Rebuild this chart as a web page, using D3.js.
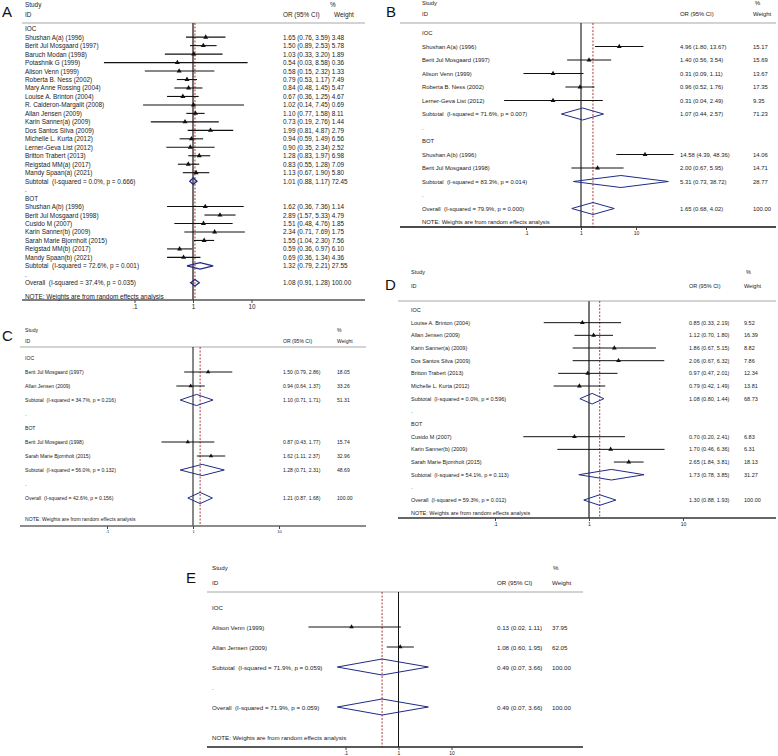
<!DOCTYPE html>
<html><head><meta charset="utf-8">
<script src="https://cdn.jsdelivr.net/npm/d3@7"></script>
<style>
body{margin:0;background:#fff}
svg text{font-family:"Liberation Sans",Arial,Helvetica,sans-serif;white-space:pre;fill:#222}
</style>
</head><body>
<svg id="chart" width="778" height="756"></svg>
<script>
// ---------------- DATA ----------------
const tickValues = [0.1, 1, 10];
const tickLabels = [".1", "1", "10"];
const headerLabels = ["Study", "ID", "OR (95% CI)", "%", "Weight"];
const noteText = "NOTE: Weights are from random effects analysis";

// Panel A
const aIOC = [
  ["Shushan A(a) (1996)", 1.65, 0.76, 3.59, 3.48],
  ["Berit Jul Mosgaard (1997)", 1.50, 0.89, 2.53, 5.78],
  ["Baruch Modan (1998)", 1.03, 0.33, 3.20, 1.89],
  ["Potashnik G (1999)", 0.54, 0.03, 8.58, 0.36],
  ["Alison Venn (1999)", 0.58, 0.15, 2.32, 1.33],
  ["Roberta B. Ness (2002)", 0.79, 0.53, 1.17, 7.49],
  ["Mary Anne Rossing (2004)", 0.84, 0.48, 1.45, 5.47],
  ["Louise A. Brinton (2004)", 0.67, 0.36, 1.25, 4.67],
  ["R. Calderon-Margalit (2008)", 1.02, 0.14, 7.45, 0.69],
  ["Allan Jensen (2009)", 1.10, 0.77, 1.58, 8.11],
  ["Karin Sanner(a) (2009)", 0.73, 0.19, 2.76, 1.44],
  ["Dos Santos Silva (2009)", 1.99, 0.81, 4.87, 2.79],
  ["Michelle L. Kurta (2012)", 0.94, 0.59, 1.49, 6.56],
  ["Lerner-Geva List (2012)", 0.90, 0.35, 2.34, 2.52],
  ["Britton Trabert (2013)", 1.28, 0.83, 1.97, 6.98],
  ["Reigstad MM(a) (2017)", 0.83, 0.55, 1.28, 7.09],
  ["Mandy Spaan(a) (2021)", 1.13, 0.67, 1.90, 5.80]
];
const aIOCsub = ["Subtotal  (I-squared = 0.0%, p = 0.666)", 1.01, 0.88, 1.17, 72.45];
const aBOT = [
  ["Shushan A(b) (1996)", 1.62, 0.36, 7.36, 1.14],
  ["Berit Jul Mosgaard (1998)", 2.89, 1.57, 5.33, 4.79],
  ["Cusido M (2007)", 1.51, 0.48, 4.76, 1.85],
  ["Karin Sanner(b) (2009)", 2.34, 0.71, 7.69, 1.75],
  ["Sarah Marie Bjornholt (2015)", 1.55, 1.04, 2.30, 7.56],
  ["Reigstad MM(b) (2017)", 0.59, 0.36, 0.97, 6.10],
  ["Mandy Spaan(b) (2021)", 0.69, 0.36, 1.34, 4.36]
];
const aBOTsub = ["Subtotal  (I-squared = 72.6%, p = 0.001)", 1.32, 0.79, 2.21, 27.55];
const aOverall = ["Overall  (I-squared = 37.4%, p = 0.035)", 1.08, 0.91, 1.28, 100.00];

// Panel B
const bIOC = [
  ["Shushan A(a) (1996)", 4.96, 1.80, 13.67, 15.17],
  ["Berit Jul Mosgaard (1997)", 1.40, 0.56, 3.54, 15.69],
  ["Alison Venn (1999)", 0.31, 0.09, 1.11, 13.67],
  ["Roberta B. Ness (2002)", 0.96, 0.52, 1.76, 17.35],
  ["Lerner-Geva List (2012)", 0.31, 0.04, 2.49, 9.35]
];
const bIOCsub = ["Subtotal  (I-squared = 71.6%, p = 0.007)", 1.07, 0.44, 2.57, 71.23];
const bBOT = [
  ["Shushan A(b) (1996)", 14.58, 4.39, 48.36, 14.06],
  ["Berit Jul Mosgaard (1998)", 2.00, 0.67, 5.95, 14.71]
];
const bBOTsub = ["Subtotal  (I-squared = 83.3%, p = 0.014)", 5.31, 0.73, 38.72, 28.77];
const bOverall = ["Overall  (I-squared = 79.9%, p = 0.000)", 1.65, 0.68, 4.02, 100.00];

// Panel C
const cIOC = [
  ["Berit Jul Mosgaard (1997)", 1.50, 0.79, 2.86, 18.05],
  ["Allan Jensen (2009)", 0.94, 0.64, 1.37, 33.26]
];
const cIOCsub = ["Subtotal  (I-squared = 34.7%, p = 0.216)", 1.10, 0.71, 1.71, 51.31];
const cBOT = [
  ["Berit Jul Mosgaard (1998)", 0.87, 0.43, 1.77, 15.74],
  ["Sarah Marie Bjornholt (2015)", 1.62, 1.11, 2.37, 32.96]
];
const cBOTsub = ["Subtotal  (I-squared = 56.0%, p = 0.132)", 1.28, 0.71, 2.31, 48.69];
const cOverall = ["Overall  (I-squared = 42.6%, p = 0.156)", 1.21, 0.87, 1.68, 100.00];

// Panel D
const dIOC = [
  ["Louise A. Brinton (2004)", 0.85, 0.33, 2.19, 9.52],
  ["Allan Jensen (2009)", 1.12, 0.70, 1.80, 16.39],
  ["Karin Sanner(a) (2009)", 1.86, 0.67, 5.15, 8.82],
  ["Dos Santos Silva (2009)", 2.06, 0.67, 6.32, 7.86],
  ["Britton Trabert (2013)", 0.97, 0.47, 2.01, 12.34],
  ["Michelle L. Kurta (2012)", 0.79, 0.42, 1.49, 13.81]
];
const dIOCsub = ["Subtotal  (I-squared = 0.0%, p = 0.596)", 1.08, 0.80, 1.44, 68.73];
const dBOT = [
  ["Cusido M (2007)", 0.70, 0.20, 2.41, 6.83],
  ["Karin Sanner(b) (2009)", 1.70, 0.46, 6.36, 6.31],
  ["Sarah Marie Bjornholt (2015)", 2.65, 1.84, 3.81, 18.13]
];
const dBOTsub = ["Subtotal  (I-squared = 54.1%, p = 0.113)", 1.73, 0.78, 3.85, 31.27];
const dOverall = ["Overall  (I-squared = 59.3%, p = 0.012)", 1.30, 0.88, 1.93, 100.00];

// Panel E
const eIOC = [
  ["Alison Venn (1999)", 0.13, 0.02, 1.11, 37.95],
  ["Allan Jensen (2009)", 1.08, 0.60, 1.95, 62.05]
];
const eIOCsub = ["Subtotal  (I-squared = 71.9%, p = 0.059)", 0.49, 0.07, 3.66, 100.00];
const eOverall = ["Overall  (I-squared = 71.9%, p = 0.059)", 0.49, 0.07, 3.66, 100.00];

// ---------------- DRAWING ----------------
const svg = d3.select("#chart");
const fmt = d3.format(".2f");
const navy = "#1f2b86";
const red = "#a3262b";

function drawPanel(cfg, groups, overall) {
  const g = svg.append("g");
  const x = d3.scaleLog().domain([0.1, 10]).range([cfg.x1 - cfg.dec, cfg.x1 + cfg.dec]);
  const rows = [];
  groups.forEach(grp => {
    rows.push({type: "group", label: grp.name});
    grp.studies.forEach(s => rows.push({type: "study", label: s[0], est: s[1], lo: s[2], hi: s[3], w: s[4]}));
    rows.push({type: "sub", label: grp.sub[0], est: grp.sub[1], lo: grp.sub[2], hi: grp.sub[3], w: grp.sub[4]});
    rows.push({type: "dot", label: "."});
  });
  rows.push({type: "sub", label: overall[0], est: overall[1], lo: overall[2], hi: overall[3], w: overall[4]});
  rows.forEach((r, i) => r.y = cfg.y0 + i * cfg.dy);

  const fs = cfg.fs;
  // panel letter
  g.append("text").attr("x", cfg.letterX).attr("y", cfg.letterY)
    .attr("font-size", 15).style("fill", "#111").text(cfg.letter);
  // header
  g.append("text").attr("x", cfg.labelX).attr("y", cfg.studyY).attr("dominant-baseline", "central")
    .attr("font-size", fs).text(headerLabels[0]);
  g.append("text").attr("x", cfg.labelX).attr("y", cfg.idY).attr("dominant-baseline", "central")
    .attr("font-size", fs).text(headerLabels[1]);
  g.append("text").attr("x", cfg.orX).attr("y", cfg.idY).attr("dominant-baseline", "central")
    .attr("font-size", fs).text(headerLabels[2]);
  g.append("text").attr("x", cfg.pctX).attr("y", cfg.studyY).attr("dominant-baseline", "central")
    .attr("font-size", fs).text(headerLabels[3]);
  g.append("text").attr("x", cfg.wX).attr("y", cfg.idY).attr("dominant-baseline", "central")
    .attr("font-size", fs).text(headerLabels[4]);
  g.append("line").attr("x1", cfg.left).attr("x2", cfg.right)
    .attr("y1", cfg.headY).attr("y2", cfg.headY)
    .attr("stroke", "#c4c4c4").attr("stroke-width", 1.5);

  // null line and overall line
  g.append("line").attr("x1", x(1)).attr("x2", x(1))
    .attr("y1", cfg.headY).attr("y2", cfg.axisY)
    .attr("stroke", cfg.nullColor).attr("stroke-width", cfg.nullW);
  g.append("line").attr("x1", x(overall[1])).attr("x2", x(overall[1]))
    .attr("y1", cfg.headY).attr("y2", cfg.axisY)
    .attr("stroke", red).attr("stroke-width", 0.9).attr("stroke-dasharray", "2,1.5");

  // row labels
  g.selectAll("text.lab").data(rows).join("text").attr("class", "lab")
    .attr("x", cfg.labelX).attr("y", d => d.y).attr("dominant-baseline", "central")
    .attr("font-size", fs).text(d => d.label);

  const est = rows.filter(r => r.type === "study" || r.type === "sub");
  if (cfg.joined) {
    g.selectAll("text.or").data(est).join("text").attr("class", "or")
      .attr("x", cfg.orX).attr("y", d => d.y).attr("dominant-baseline", "central")
      .attr("font-size", fs)
      .text(d => `${fmt(d.est)} (${fmt(d.lo)}, ${fmt(d.hi)}) ${fmt(d.w)}`);
  } else {
    g.selectAll("text.or").data(est).join("text").attr("class", "or")
      .attr("x", cfg.orX).attr("y", d => d.y).attr("dominant-baseline", "central")
      .attr("font-size", fs)
      .text(d => `${fmt(d.est)} (${fmt(d.lo)}, ${fmt(d.hi)})`);
    g.selectAll("text.w").data(est).join("text").attr("class", "w")
      .attr("x", cfg.wX).attr("y", d => d.y).attr("dominant-baseline", "central")
      .attr("font-size", fs).text(d => fmt(d.w));
  }

  // CIs
  const studies = rows.filter(r => r.type === "study");
  g.selectAll("line.ci").data(studies).join("line").attr("class", "ci")
    .attr("x1", d => x(d.lo)).attr("x2", d => x(d.hi))
    .attr("y1", d => d.y).attr("y2", d => d.y)
    .attr("stroke", "#111").attr("stroke-width", cfg.ciW);
  const tri = d3.symbol(d3.symbolTriangle, cfg.triArea);
  g.selectAll("path.pt").data(studies).join("path").attr("class", "pt")
    .attr("transform", d => `translate(${x(d.est)},${d.y})`)
    .attr("d", tri).attr("fill", "#111");

  // diamonds
  const subs = rows.filter(r => r.type === "sub");
  g.selectAll("path.dia").data(subs).join("path").attr("class", "dia")
    .attr("d", d => `M${x(d.lo)},${d.y}L${x(d.est)},${d.y - cfg.dh}L${x(d.hi)},${d.y}L${x(d.est)},${d.y + cfg.dh}Z`)
    .attr("fill", "none").attr("stroke", navy).attr("stroke-width", cfg.diaW);

  // note
  g.append("text").attr("x", cfg.labelX).attr("y", cfg.noteY).attr("dominant-baseline", "central")
    .attr("font-size", fs).text(noteText);

  // axis line
  g.append("line").attr("x1", cfg.left).attr("x2", cfg.right)
    .attr("y1", cfg.axisY).attr("y2", cfg.axisY)
    .attr("stroke", cfg.axisColor).attr("stroke-width", 1.3);
  const axis = d3.axisBottom(x).tickValues(tickValues)
    .tickFormat((d, i) => tickLabels[i]).tickSize(3).tickPadding(1.5);
  const ag = g.append("g").attr("transform", `translate(0,${cfg.axisY})`).call(axis);
  ag.select(".domain").remove();
  ag.selectAll("text").attr("font-size", cfg.tickFs).style("fill", "#222")
    .style("font-family", '"Liberation Sans",Arial,sans-serif');
  ag.selectAll("line").attr("stroke", "#444");
}

drawPanel({letter: "A", letterX: 2, letterY: 17, left: 22, right: 365,
  labelX: 25, orX: 283, pctX: 330, wX: 334, studyY: 4, idY: 14, headY: 23,
  y0: 28.7, dy: 8.47, noteY: 296.5, axisY: 300, x1: 193, dec: 58.5,
  fs: 6.4, tickFs: 6.4, joined: true, nullColor: "#111", nullW: 1.2,
  axisColor: "#555", ciW: 1.1, triArea: 11, dh: 3.2, diaW: 1.3},
  [{name: "IOC", studies: aIOC, sub: aIOCsub}, {name: "BOT", studies: aBOT, sub: aBOTsub}], aOverall);

drawPanel({letter: "B", letterX: 386, letterY: 17, left: 400, right: 776,
  labelX: 422, orX: 680, pctX: 755, wX: 753, studyY: 3, idY: 14, headY: 23,
  y0: 33, dy: 13.5, noteY: 222, axisY: 227, x1: 581, dec: 55,
  fs: 5.9, tickFs: 5, joined: false, nullColor: "#111", nullW: 1.1,
  axisColor: "#111", ciW: 1, triArea: 10, dh: 6, diaW: 1},
  [{name: "IOC", studies: bIOC, sub: bIOCsub}, {name: "BOT", studies: bBOT, sub: bBOTsub}], bOverall);

drawPanel({letter: "C", letterX: 2, letterY: 341, left: 20, right: 366,
  labelX: 25, orX: 283, pctX: 337, wX: 337, studyY: 330, idY: 341, headY: 347,
  y0: 358, dy: 14, noteY: 519, axisY: 526, x1: 193, dec: 86,
  fs: 5.1, tickFs: 4, joined: false, nullColor: "#111", nullW: 1,
  axisColor: "#666", ciW: 1, triArea: 8, dh: 5.6, diaW: 1},
  [{name: "IOC", studies: cIOC, sub: cIOCsub}, {name: "BOT", studies: cBOT, sub: cBOTsub}], cOverall);

drawPanel({letter: "D", letterX: 385, letterY: 290, left: 398, right: 776,
  labelX: 411, orX: 689, pctX: 746, wX: 744, studyY: 272, idY: 286, headY: 301,
  y0: 310, dy: 12.67, noteY: 513, axisY: 518, x1: 589, dec: 94,
  fs: 5.5, tickFs: 5, joined: false, nullColor: "#777", nullW: 2,
  axisColor: "#333", ciW: 1, triArea: 10, dh: 5.3, diaW: 1},
  [{name: "IOC", studies: dIOC, sub: dIOCsub}, {name: "BOT", studies: dBOT, sub: dBOTsub}], dOverall);

drawPanel({letter: "E", letterX: 186, letterY: 583, left: 207, right: 583,
  labelX: 212, orX: 497, pctX: 553, wX: 552, studyY: 567, idY: 582, headY: 592,
  y0: 607, dy: 20, noteY: 737, axisY: 747, x1: 398.5, dec: 53,
  fs: 6.2, tickFs: 5, joined: false, nullColor: "#111", nullW: 1,
  axisColor: "#222", ciW: 1, triArea: 9, dh: 8, diaW: 1},
  [{name: "IOC", studies: eIOC, sub: eIOCsub}], eOverall);
</script>
</body></html>
